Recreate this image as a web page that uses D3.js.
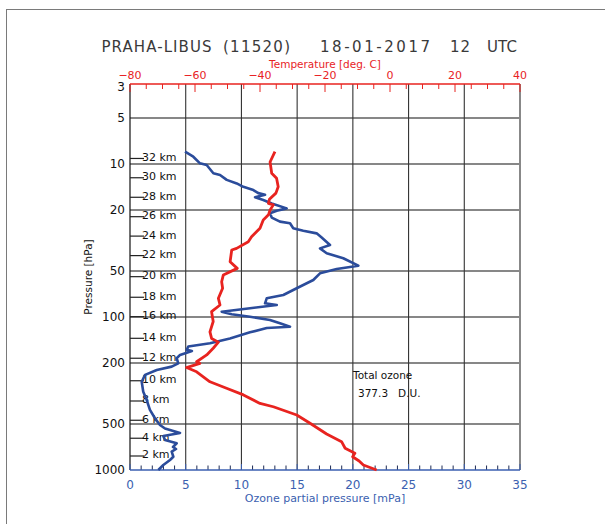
<!DOCTYPE html>
<html>
<head>
<meta charset="utf-8">
<script src="https://cdn.jsdelivr.net/npm/d3@7"></script>
<style>
  body { margin: 0; background: #fff; }
  text { font-family: "DejaVu Sans", sans-serif; }
</style>
</head>
<body>
<script>
// axis ticks
var pressureTicks = [3, 5, 10, 20, 50, 100, 200, 500, 1000];
var gridPressures = [5, 10, 20, 50, 100, 200, 500];
var ozoneTicks = [0, 5, 10, 15, 20, 25, 30, 35];
var tempTicks = [-80, -60, -40, -20, 0, 20, 40];

// altitude markers (km) and the pressure they sit at
var kmLabels = [32, 30, 28, 26, 24, 22, 20, 18, 16, 14, 12, 10, 8, 6, 4, 2];
var kmPressure = [9.2, 12.3, 16.5, 22.1, 29.6, 39.7, 54.5, 74.3, 99.5, 137.8, 186, 261, 354, 473, 620, 810];

// temperature profile [hPa], [deg C]
var tempP = [8.3, 9.7, 11.5, 12.4, 14.1, 15.5, 17.0, 18.1, 18.5, 20.0, 21.5, 23.2, 26.3, 29.9, 32.2, 35.6,
  36.5, 43.5, 48.1, 53.2, 58.8, 64.9, 75.5, 83.5, 92.3, 107, 125, 138, 146, 160, 177, 196, 201, 214, 228,
  265, 292, 323, 367, 386, 437, 495, 582, 653, 721, 778, 819, 873, 928, 1000];
var tempT = [-35.4, -36.9, -36.4, -34.9, -34.4, -35.1, -37.1, -37.4, -35.9, -36.9, -37.4, -39.0, -40.0, -42.6, -43.6, -47.2,
  -48.7, -49.2, -47.0, -51.3, -51.8, -51.5, -52.8, -52.3, -54.9, -54.4, -55.4, -54.9, -52.8, -54.4, -56.4, -59.5, -58.5, -62.6, -59.5,
  -55.4, -50.3, -45.1, -40.0, -35.9, -28.7, -24.6, -19.5, -14.9, -13.8, -10.8, -11.5, -9.5, -8.2, -4.1];

// ozone profile [hPa], [mPa]
var ozoneP = [8.31, 8.96, 9.9, 10.15, 11.5, 11.8, 12.7, 13.4, 14.1, 14.8, 15.5, 15.9, 16.5, 17.2, 18.1, 19.5,
  20.2, 21.0, 22.4, 23.8, 24.4, 26.3, 27.3, 28.4, 30.2, 33.8, 35.6, 38.3, 41.3, 46.2, 48.6, 51.8, 57.3, 64.9,
  71.8, 75.5, 81.4, 83.5, 87.7, 92.3, 96.0, 99.6, 104.6, 110, 115.7, 118, 126, 138, 148.6, 156, 164, 167, 177,
  186, 201, 211, 222, 239, 265, 308, 349, 405, 459, 508, 536, 573, 599, 637, 669, 707, 729, 759, 819, 860, 928, 1000];
var ozoneV = [4.94, 5.68, 6.28, 6.88, 7.48, 8.08, 8.68, 9.58, 10.17, 11.07, 11.51, 12.12, 11.22, 11.96, 12.72, 14.06,
  13.17, 12.56, 12.72, 13.46, 14.36, 14.65, 15.55, 16.75, 17.2, 17.95, 17.05, 17.65, 19.14, 20.49, 18.55, 17.05, 16.45, 14.96,
  13.76, 12.27, 12.12, 13.17, 10.77, 8.23, 9.13, 10.77, 12.56, 13.46, 14.36, 12.27, 10.77, 8.97, 7.18, 5.23, 5.09, 5.56, 4.49,
  4.19, 4.33, 3.74, 2.40, 1.35, 1.05, 1.19, 1.50, 1.79, 2.24, 2.69, 3.14, 4.49, 2.99, 3.14, 4.19, 3.86, 4.13, 3.74, 3.89, 3.59, 2.99, 2.54];

var width = 605;
var height = 524;
var plot = { left: 130, right: 520, top: 84, bottom: 470 };

var red = "#e8231f";
var blue = "#2b4c9b";
var blueText = "#3b5fb0";

var svg = d3.select("body")
    .append("svg")
    .attr("width", width)
    .attr("height", height);

// frame around the picture
svg.append("rect")
    .attr("x", 6.5).attr("y", 9.5)
    .attr("width", 640).attr("height", 560)
    .attr("fill", "none")
    .attr("stroke", "#7a7a7a")
    .attr("stroke-width", 1);

var y = d3.scaleLog().domain([3, 1000]).range([plot.top, plot.bottom]);
var xOz = d3.scaleLinear().domain([0, 35]).range([plot.left, plot.right]);
var xT = d3.scaleLinear().domain([-80, 40]).range([plot.left, plot.right]);

// title pieces, stretched to the widths seen in the original
var title = [
    { t: "PRAHA-LIBUS", x: 101.5, w: 110 },
    { t: "(11520)", x: 223, w: 67 },
    { t: "18-01-2017", x: 320, w: 110 },
    { t: "12", x: 450, w: 20 },
    { t: "UTC", x: 487, w: 30 }
];
svg.selectAll(".title")
    .data(title)
    .enter()
    .append("text")
    .attr("class", "title")
    .attr("x", function(d) { return d.x; })
    .attr("y", 52)
    .attr("font-size", 15)
    .attr("fill", "#3a3a3a")
    .attr("textLength", function(d) { return d.w; })
    .attr("lengthAdjust", "spacing")
    .text(function(d) { return d.t; });

// horizontal grid
svg.selectAll(".hgrid")
    .data(gridPressures)
    .enter()
    .append("line")
    .attr("x1", plot.left).attr("x2", plot.right)
    .attr("y1", function(d) { return y(d); })
    .attr("y2", function(d) { return y(d); })
    .attr("stroke", "#111")
    .attr("stroke-width", 1.1);

// vertical grid on ozone ticks
svg.selectAll(".vgrid")
    .data(ozoneTicks.slice(1, -1))
    .enter()
    .append("line")
    .attr("x1", function(d) { return xOz(d); })
    .attr("x2", function(d) { return xOz(d); })
    .attr("y1", plot.top).attr("y2", plot.bottom)
    .attr("stroke", "#333")
    .attr("stroke-width", 1.1);

// left and right borders
svg.append("line")
    .attr("x1", plot.left).attr("x2", plot.left)
    .attr("y1", plot.top).attr("y2", plot.bottom)
    .attr("stroke", "#111").attr("stroke-width", 1.2);
svg.append("line")
    .attr("x1", plot.right).attr("x2", plot.right)
    .attr("y1", plot.top).attr("y2", plot.bottom)
    .attr("stroke", "#888").attr("stroke-width", 2);

// pressure labels (the top one is nudged down inside the frame)
svg.selectAll(".plab")
    .data(pressureTicks)
    .enter()
    .append("text")
    .attr("x", 125)
    .attr("y", function(d) { return Math.max(y(d), 87) + 4.3; })
    .attr("text-anchor", "end")
    .attr("font-size", 12)
    .attr("fill", "#111")
    .text(function(d) { return d; });

svg.append("text")
    .attr("transform", "translate(92," + ((plot.top + plot.bottom) / 2) + ") rotate(-90)")
    .attr("text-anchor", "middle")
    .attr("font-size", 10.5)
    .attr("fill", "#111")
    .text("Pressure [hPa]");

// km markers
var km = svg.selectAll(".km")
    .data(kmLabels)
    .enter()
    .append("g")
    .attr("transform", function(d, i) { return "translate(0," + y(kmPressure[i]) + ")"; });
km.append("line")
    .attr("x1", plot.left).attr("x2", plot.left + 14)
    .attr("stroke", "#222").attr("stroke-width", 1.2);
km.append("text")
    .attr("x", plot.left + 12)
    .attr("y", 2.5)
    .attr("font-size", 11)
    .attr("fill", "#111")
    .text(function(d) { return d + " km"; });

// top temperature axis
var gTop = svg.append("g")
    .attr("transform", "translate(0," + plot.top + ")");
gTop.append("line")
    .attr("x1", plot.left).attr("x2", plot.right)
    .attr("stroke", red).attr("stroke-width", 1.5);
gTop.selectAll(".tt")
    .data(d3.range(-80, 41, 5))
    .enter()
    .append("line")
    .attr("x1", function(d) { return xT(d); })
    .attr("x2", function(d) { return xT(d); })
    .attr("y1", 0)
    .attr("y2", function(d) { return d % 20 === 0 ? 8 : 5; })
    .attr("stroke", red).attr("stroke-width", 1);
gTop.selectAll(".tl")
    .data(tempTicks)
    .enter()
    .append("text")
    .attr("x", function(d) { return xT(d); })
    .attr("y", -5.5)
    .attr("text-anchor", "middle")
    .attr("font-size", 11)
    .attr("fill", red)
    .text(function(d) { return d < 0 ? "\u2212" + Math.abs(d) : d; });
svg.append("text")
    .attr("x", (plot.left + plot.right) / 2)
    .attr("y", 67.5)
    .attr("text-anchor", "middle")
    .attr("font-size", 10.5)
    .attr("fill", red)
    .text("Temperature [deg. C]");

// bottom ozone axis
var gBot = svg.append("g")
    .attr("transform", "translate(0," + plot.bottom + ")");
gBot.selectAll(".bt")
    .data(d3.range(0, 36, 1))
    .enter()
    .append("line")
    .attr("x1", function(d) { return xOz(d); })
    .attr("x2", function(d) { return xOz(d); })
    .attr("y1", 0)
    .attr("y2", function(d) { return d % 5 === 0 ? -6 : -4.5; })
    .attr("stroke", function(d) { return d % 5 === 0 ? blueText : "#1c2a55"; })
    .attr("stroke-width", 1);
gBot.append("line")
    .attr("x1", plot.left).attr("x2", plot.right)
    .attr("stroke", blueText).attr("stroke-width", 1.6);
gBot.selectAll(".bl")
    .data(ozoneTicks)
    .enter()
    .append("text")
    .attr("x", function(d) { return xOz(d); })
    .attr("y", 18.5)
    .attr("text-anchor", "middle")
    .attr("font-size", 12)
    .attr("fill", blueText)
    .text(function(d) { return d; });
svg.append("text")
    .attr("x", (plot.left + plot.right) / 2)
    .attr("y", 502)
    .attr("text-anchor", "middle")
    .attr("font-size", 11)
    .attr("fill", blueText)
    .text("Ozone partial pressure [mPa]");

// total ozone note
svg.append("text")
    .attr("x", 353).attr("y", 379)
    .attr("font-size", 10.5).attr("fill", "#111")
    .text("Total ozone");
svg.append("text")
    .attr("x", 358).attr("y", 397)
    .attr("font-size", 10.5).attr("fill", "#111")
    .attr("xml:space", "preserve")
    .text("377.3   D.U.");

// profiles
var ozoneLine = d3.line()
    .x(function(d, i) { return xOz(ozoneV[i]); })
    .y(function(d) { return y(d); });
svg.append("path")
    .attr("d", ozoneLine(ozoneP))
    .attr("fill", "none")
    .attr("stroke", blue)
    .attr("stroke-width", 2.6)
    .attr("stroke-linejoin", "round");

var tempLine = d3.line()
    .x(function(d, i) { return xT(tempT[i]); })
    .y(function(d) { return y(d); });
svg.append("path")
    .attr("d", tempLine(tempP))
    .attr("fill", "none")
    .attr("stroke", red)
    .attr("stroke-width", 2.8)
    .attr("stroke-linejoin", "round");
</script>
</body>
</html>
